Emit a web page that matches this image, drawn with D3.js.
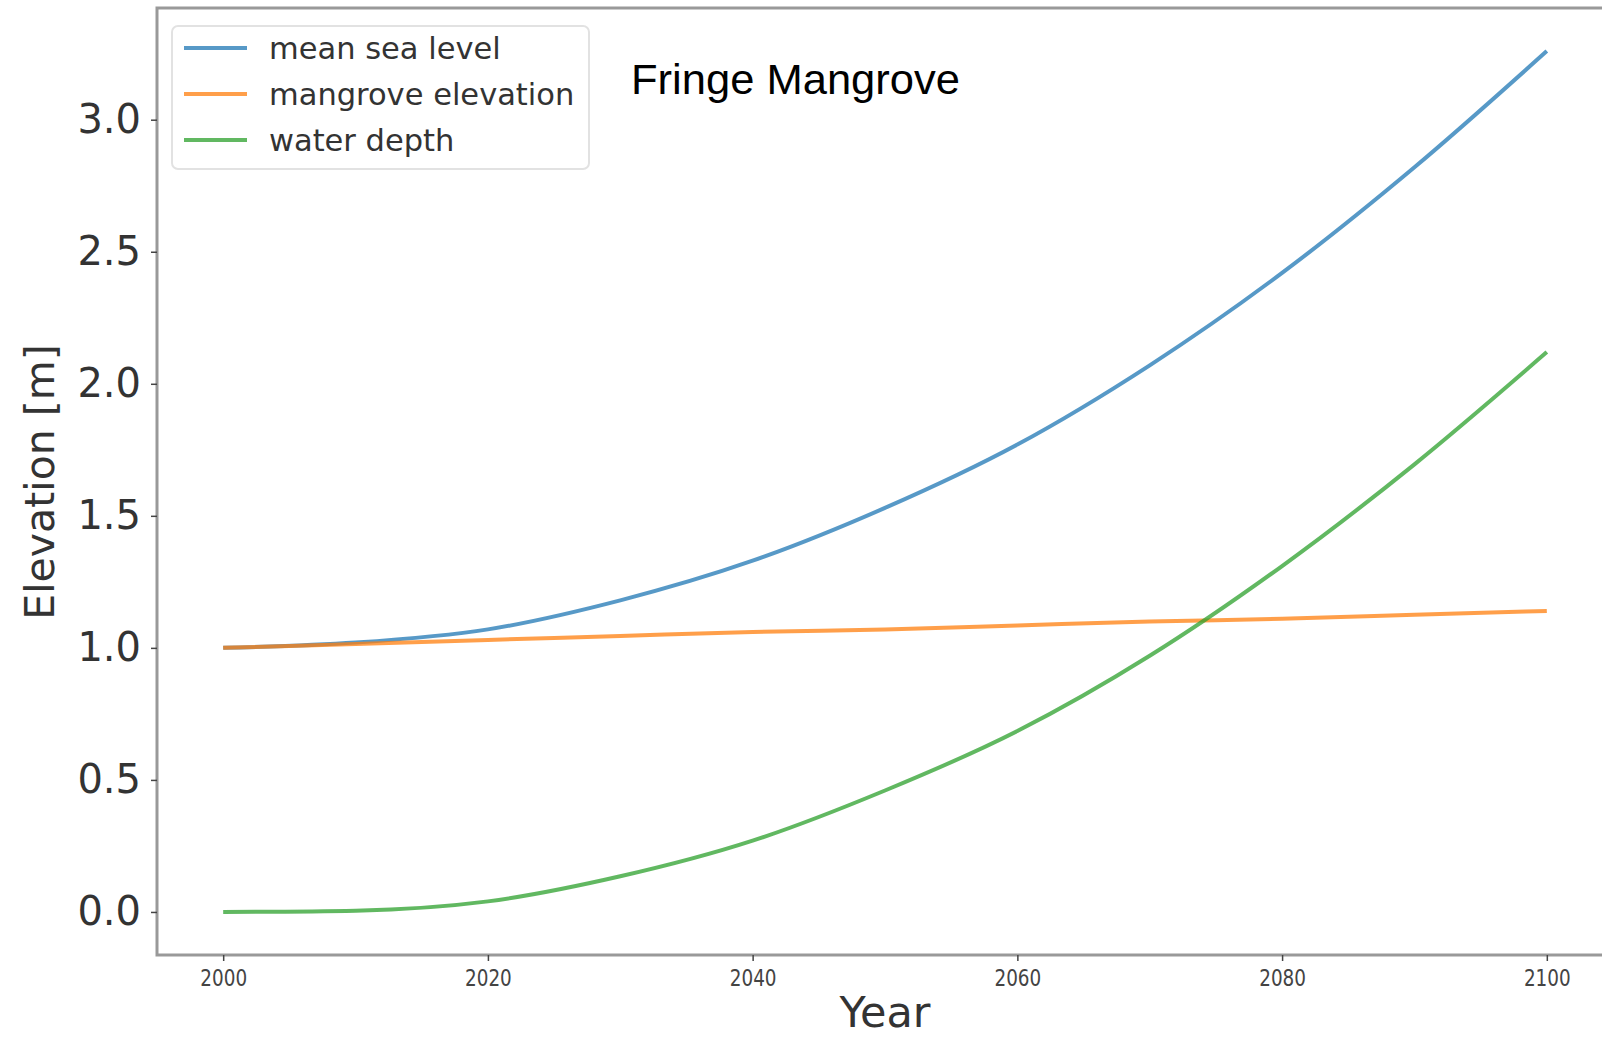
<!DOCTYPE html>
<html>
<head>
<meta charset="utf-8">
<script src="https://cdn.jsdelivr.net/npm/d3@7"></script>
<style>
body { margin: 0; background: #fff; }
</style>
</head>
<body>
<svg id="chart"></svg>
<script>
// data
var years = [2000, 2010, 2020, 2030, 2040, 2050, 2060, 2070, 2080, 2090, 2100];
var meanSeaLevel = [1.00, 1.02, 1.07, 1.18, 1.33, 1.53, 1.77, 2.07, 2.42, 2.82, 3.26];
var mangroveElevation = [1.00, 1.015, 1.03, 1.045, 1.06, 1.07, 1.085, 1.10, 1.11, 1.125, 1.14];
var waterDepth = [0.00, 0.005, 0.04, 0.135, 0.27, 0.46, 0.685, 0.97, 1.31, 1.695, 2.12];
var seriesNames = ["mean sea level", "mangrove elevation", "water depth"];
var yTicks = [0.0, 0.5, 1.0, 1.5, 2.0, 2.5, 3.0];
var xTicks = [2000, 2020, 2040, 2060, 2080, 2100];

var width = 1602;
var height = 1038;
var plot = {left: 157, right: 1613, top: 8, bottom: 955};
var colors = ["#1f77b4", "#ff7f0e", "#2ca02c"];

var svg = d3.select("#chart")
	.attr("width", width)
	.attr("height", height);

var x = d3.scaleLinear().domain([1995, 2105]).range([plot.left, plot.right]);
var y = d3.scaleLinear().domain([-0.163, 3.423]).range([plot.bottom, plot.top]);

// frame
svg.append("rect")
	.attr("x", plot.left)
	.attr("y", plot.top)
	.attr("width", plot.right - plot.left)
	.attr("height", plot.bottom - plot.top)
	.attr("fill", "none")
	.attr("stroke", "#999")
	.attr("stroke-width", 3);

// y axis
var yAxis = svg.append("g")
	.attr("transform", "translate(" + plot.left + ",0)")
	.call(d3.axisLeft(y).tickValues(yTicks).tickFormat(d3.format(".1f")).tickSize(6).tickPadding(10));
yAxis.select(".domain").remove();
yAxis.selectAll("line").attr("stroke", "#444").attr("stroke-width", 1.5);
yAxis.selectAll("text")
	.attr("font-family", "DejaVu Sans")
	.attr("font-size", "40px")
	.attr("fill", "#333");

// x axis
var xAxis = svg.append("g")
	.attr("transform", "translate(0," + plot.bottom + ")")
	.call(d3.axisBottom(x).tickValues(xTicks).tickFormat(d3.format("d")).tickSize(6).tickPadding(0));
xAxis.select(".domain").remove();
xAxis.selectAll("line").attr("stroke", "#444").attr("stroke-width", 1.5);
xAxis.selectAll("text")
	.attr("font-family", "DejaVu Sans")
	.attr("font-size", "23px")
	.attr("fill", "#444")
	.attr("dy", "1.1em")
	.attr("transform", "scale(0.8,1)");

// axis titles
svg.append("text")
	.attr("x", (plot.left + plot.right) / 2)
	.attr("y", 1027)
	.attr("text-anchor", "middle")
	.attr("font-family", "DejaVu Sans")
	.attr("font-size", "43px")
	.attr("fill", "#333")
	.text("Year");

svg.append("text")
	.attr("transform", "translate(54,482) rotate(-90)")
	.attr("text-anchor", "middle")
	.attr("font-family", "DejaVu Sans")
	.attr("font-size", "41px")
	.attr("fill", "#333")
	.text("Elevation [m]");

// lines
var allSeries = [meanSeaLevel, mangroveElevation, waterDepth];
var line = d3.line()
	.x(function(d, i) { return x(years[i]); })
	.y(function(d) { return y(d); })
	.curve(d3.curveMonotoneX);

svg.append("g")
	.selectAll("path")
	.data(allSeries)
	.join("path")
	.attr("d", line)
	.attr("fill", "none")
	.attr("stroke", function(d, i) { return colors[i]; })
	.attr("stroke-opacity", 0.75)
	.attr("stroke-width", 4);

// legend
var legend = svg.append("g").attr("transform", "translate(172,26)");
legend.append("rect")
	.attr("width", 417)
	.attr("height", 143)
	.attr("rx", 6)
	.attr("fill", "#fff")
	.attr("stroke", "#e2e2e2")
	.attr("stroke-width", 2);
seriesNames.forEach(function(name, i) {
	var row = legend.append("g").attr("transform", "translate(0," + (22 + i * 46) + ")");
	row.append("line")
		.attr("x1", 12).attr("x2", 75)
		.attr("stroke", colors[i])
		.attr("stroke-opacity", 0.75)
		.attr("stroke-width", 4);
	row.append("text")
		.attr("x", 97)
		.attr("dy", "0.35em")
		.attr("font-family", "DejaVu Sans")
		.attr("font-size", "30.5px")
		.attr("fill", "#333")
		.text(name);
});

// title label inside plot
svg.append("text")
	.attr("x", 631)
	.attr("y", 94)
	.attr("font-family", "Liberation Sans")
	.attr("font-size", "43px")
	.attr("fill", "#000")
	.attr("textLength", 329)
	.attr("lengthAdjust", "spacingAndGlyphs")
	.text("Fringe Mangrove");
</script>
</body>
</html>
